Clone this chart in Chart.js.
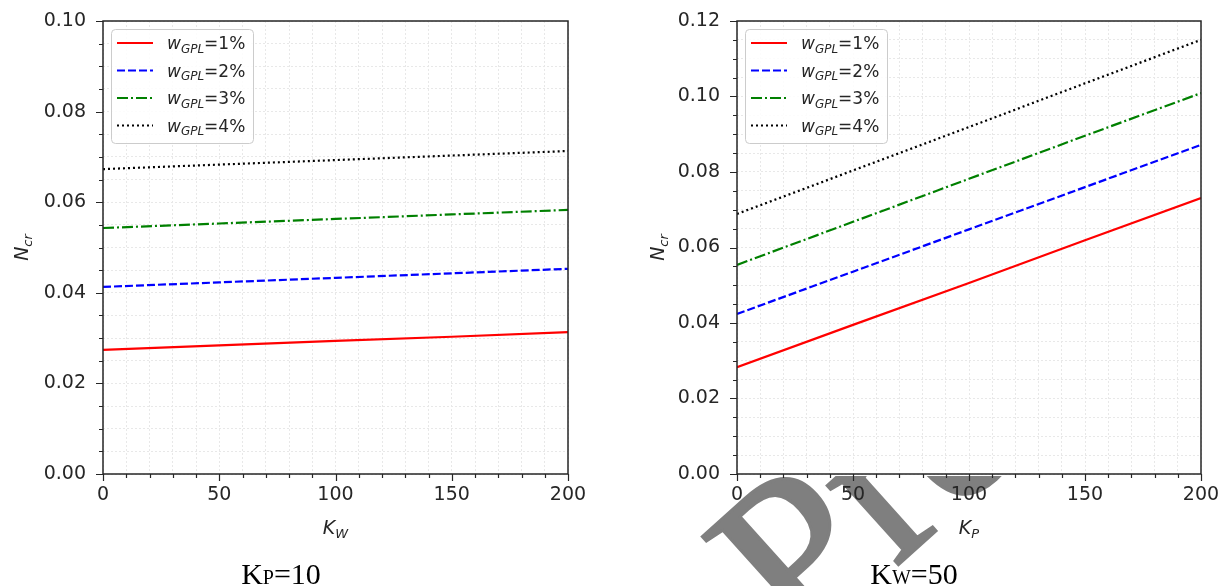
<!DOCTYPE html>
<html>
<head>
<meta charset="utf-8">
<script src="https://cdn.jsdelivr.net/npm/chart.js@4.4.0/dist/chart.umd.min.js"></script>
<style>
  html, body { margin: 0; padding: 0; background: #fff; width: 1223px; height: 586px; overflow: hidden; }
  #wm { position: absolute; left: 0; top: 0; z-index: 0; }
  .box { position: absolute; top: 0; height: 586px; z-index: 1; }
</style>
</head>
<body>
<svg id="wm" width="1223" height="586">
  <defs><clipPath id="wmclip"><rect x="600" y="476" width="410" height="110"/></clipPath></defs>
  <g clip-path="url(#wmclip)">
    <text x="799" y="654" transform="rotate(-42 799 654)" font-family="Liberation Serif" font-size="232" stroke="#7f7f7f" stroke-width="3" fill="#7f7f7f">Preprint</text>
  </g>
</svg>
<div class="box" style="left:0;width:610px"><canvas id="leftChart" width="610" height="586"></canvas></div>
<div class="box" style="left:620px;width:603px"><canvas id="rightChart" width="603" height="586"></canvas></div>
<script>
// eje x comun
const kValues = [0, 50, 100, 150, 200];
const xTickLabels = [0, 50, 100, 150, 200];
const wLabels = ['1%', '2%', '3%', '4%'];

// K_P = 10, Ncr frente a K_W
const leftW1 = [0.0274, 0.0284, 0.0294, 0.0303, 0.0313];
const leftW2 = [0.0413, 0.0423, 0.0433, 0.0443, 0.0453];
const leftW3 = [0.0543, 0.0553, 0.0563, 0.0573, 0.0583];
const leftW4 = [0.0673, 0.0683, 0.0693, 0.0703, 0.0713];
const leftYTicks = [0.00, 0.02, 0.04, 0.06, 0.08, 0.10];

// K_W = 50, Ncr frente a K_P
const rightW1 = [0.0283, 0.0395, 0.0506, 0.0619, 0.0731];
const rightW2 = [0.0424, 0.0536, 0.0648, 0.0760, 0.0872];
const rightW3 = [0.0554, 0.0668, 0.0782, 0.0896, 0.1009];
const rightW4 = [0.0689, 0.0804, 0.0919, 0.1035, 0.1150];
const rightYTicks = [0.00, 0.02, 0.04, 0.06, 0.08, 0.10, 0.12];

const lineColors = ['#ff0000', '#0000ff', '#008000', '#000000'];
const lineDashes = [[], [8, 3], [11, 3, 2, 3], [2, 3]];
const textColor = '#262626';

function drawSub(ctx, x, y, main, sub, size, rest) {
    // texto con subindice, devuelve el ancho
    ctx.font = 'italic ' + size + 'px "DejaVu Sans"';
    ctx.fillText(main, x, y);
    let w = ctx.measureText(main).width;
    ctx.font = 'italic ' + Math.round(size * 0.7) + 'px "DejaVu Sans"';
    ctx.fillText(sub, x + w, y + size * 0.22);
    w += ctx.measureText(sub).width;
    if (rest) {
        ctx.font = size + 'px "DejaVu Sans"';
        ctx.fillText(rest, x + w, y);
        w += ctx.measureText(rest).width;
    }
    return w;
}

function subWidth(ctx, main, sub, size) {
    ctx.font = 'italic ' + size + 'px "DejaVu Sans"';
    let w = ctx.measureText(main).width;
    ctx.font = 'italic ' + Math.round(size * 0.7) + 'px "DejaVu Sans"';
    return w + ctx.measureText(sub).width;
}

function noPad(s) {
    s.paddingTop = 0;
    s.paddingBottom = 0;
    s.paddingLeft = 0;
    s.paddingRight = 0;
}

function makeChart(id, series, yMax, yTicks, cfg) {
    const datasets = series.map((vals, i) => ({
        label: 'wGPL=' + wLabels[i],
        data: kValues.map((k, j) => ({ x: k, y: vals[j] })),
        borderColor: lineColors[i],
        borderDash: lineDashes[i],
        borderWidth: 2.2,
        pointRadius: 0,
        fill: false,
        tension: 0
    }));

    const decor = {
        id: 'decor',
        beforeDraw(chart) {
            const ca = chart.chartArea;
            const ctx = chart.ctx;
            ctx.save();
            ctx.fillStyle = '#ffffff';
            ctx.fillRect(ca.left, ca.top, ca.right - ca.left, ca.bottom - ca.top);
            ctx.restore();
        },
        afterDraw(chart) {
            const ca = chart.chartArea;
            const ctx = chart.ctx;
            const xs = chart.scales.x;
            const ys = chart.scales.y;
            ctx.save();

            // marco
            ctx.strokeStyle = textColor;
            ctx.lineWidth = 1.5;
            ctx.strokeRect(ca.left, ca.top, ca.right - ca.left, ca.bottom - ca.top);

            // marcas mayores y menores
            ctx.lineWidth = 1.2;
            ctx.beginPath();
            xs.ticks.forEach((t) => {
                const px = Math.round(xs.getPixelForValue(t.value)) + 0.5;
                const len = (t.value % 50 === 0) ? 7 : 4;
                ctx.moveTo(px, ca.bottom);
                ctx.lineTo(px, ca.bottom + len);
            });
            ys.ticks.forEach((t) => {
                const py = Math.round(ys.getPixelForValue(t.value)) + 0.5;
                const major = Math.round(t.value / 0.005) % 4 === 0;
                ctx.moveTo(ca.left, py);
                ctx.lineTo(ca.left - (major ? 7 : 4), py);
            });
            ctx.stroke();

            // leyenda
            const lx = ca.left + 8, ly = ca.top + 8;
            ctx.fillStyle = 'rgba(255,255,255,0.85)';
            ctx.strokeStyle = '#cccccc';
            ctx.lineWidth = 1;
            ctx.beginPath();
            ctx.roundRect(lx + 0.5, ly + 0.5, 142, 114, 4);
            ctx.fill();
            ctx.stroke();
            datasets.forEach((ds, i) => {
                const ry = ly + 14 + i * 27.5;
                ctx.strokeStyle = ds.borderColor;
                ctx.setLineDash(ds.borderDash);
                ctx.lineWidth = 2.2;
                ctx.beginPath();
                ctx.moveTo(lx + 6, ry);
                ctx.lineTo(lx + 42, ry);
                ctx.stroke();
                ctx.setLineDash([]);
                ctx.fillStyle = textColor;
                ctx.textBaseline = 'alphabetic';
                ctx.textAlign = 'left';
                drawSub(ctx, lx + 56, ry + 6, 'w', 'GPL', 17, '=' + wLabels[i]);
            });

            // titulos de ejes
            ctx.fillStyle = textColor;
            ctx.textAlign = 'left';
            const cx = (ca.left + ca.right) / 2;
            const wx = subWidth(ctx, 'K', cfg.xSub, 19);
            drawSub(ctx, cx - wx / 2, 534, 'K', cfg.xSub, 19);

            ctx.save();
            ctx.translate(cfg.yTitleX, (ca.top + ca.bottom) / 2);
            ctx.rotate(-Math.PI / 2);
            const wy = subWidth(ctx, 'N', 'cr', 19);
            drawSub(ctx, -wy / 2, 7, 'N', 'cr', 19);
            ctx.restore();

            // pie de figura
            ctx.font = '30px "Liberation Serif"';
            const w1 = ctx.measureText('K').width;
            const w3 = ctx.measureText('=' + cfg.capVal).width;
            ctx.font = '20px "Liberation Serif"';
            const w2 = ctx.measureText(cfg.capSub).width;
            let x0 = cfg.capX - (w1 + w2 + w3) / 2;
            ctx.fillStyle = '#000000';
            ctx.font = '30px "Liberation Serif"';
            ctx.fillText('K', x0, 584);
            ctx.font = '20px "Liberation Serif"';
            ctx.fillText(cfg.capSub, x0 + w1, 584);
            ctx.font = '30px "Liberation Serif"';
            ctx.fillText('=' + cfg.capVal, x0 + w1 + w2, 584);
            ctx.restore();
        }
    };

    return new Chart(document.getElementById(id).getContext('2d'), {
        type: 'line',
        data: { datasets: datasets },
        options: {
            responsive: false,
            animation: false,
            layout: { padding: { top: 21, right: cfg.padRight, bottom: 0, left: 0 } },
            plugins: { legend: { display: false }, tooltip: { enabled: false } },
            scales: {
                x: {
                    type: 'linear',
                    min: 0,
                    max: 200,
                    afterFit: (s) => { s.height = 112; noPad(s); },
                    ticks: {
                        stepSize: 10,
                        autoSkip: false,
                        maxRotation: 0,
                        padding: 10,
                        color: textColor,
                        font: { family: 'DejaVu Sans', size: 19 },
                        callback: (v) => xTickLabels.includes(v) ? String(v) : ''
                    },
                    grid: { color: '#e8e8e8', lineWidth: 1, drawTicks: false },
                    border: { display: false, dash: [2, 2] }
                },
                y: {
                    type: 'linear',
                    min: 0,
                    max: yMax,
                    afterFit: (s) => { s.width = cfg.yWidth; noPad(s); },
                    ticks: {
                        stepSize: 0.005,
                        autoSkip: false,
                        padding: 17,
                        color: textColor,
                        font: { family: 'DejaVu Sans', size: 19 },
                        callback: (v) => {
                            const hit = yTicks.find(t => Math.abs(t - v) < 1e-6);
                            return hit !== undefined ? hit.toFixed(2) : '';
                        }
                    },
                    grid: { color: '#e8e8e8', lineWidth: 1, drawTicks: false },
                    border: { display: false, dash: [2, 2] }
                }
            }
        },
        plugins: [decor]
    });
}

makeChart('leftChart', [leftW1, leftW2, leftW3, leftW4], 0.10, leftYTicks,
    { padRight: 42, yWidth: 103, xSub: 'W', yTitleX: 21, capX: 281, capSub: 'P', capVal: '10' });
makeChart('rightChart', [rightW1, rightW2, rightW3, rightW4], 0.12, rightYTicks,
    { padRight: 22, yWidth: 117, xSub: 'P', yTitleX: 37, capX: 294, capSub: 'W', capVal: '50' });
</script>
</body>
</html>
